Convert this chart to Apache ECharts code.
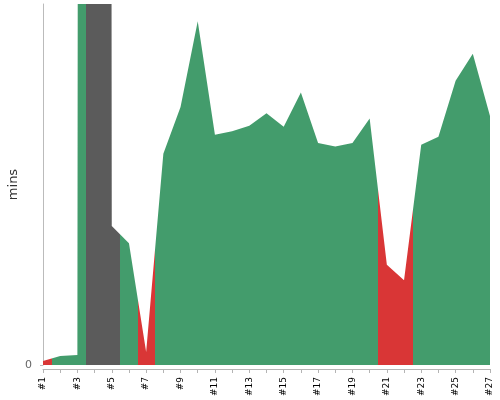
<!DOCTYPE html>
<html>
<head>
<meta charset="utf-8">
<script src="https://cdn.jsdelivr.net/npm/echarts@6/dist/echarts.min.js"></script>
<style>html,body{margin:0;padding:0;background:#fff}#c{width:500px;height:400px}</style>
</head>
<body>
<div id="c"></div>
<script>
// Build labels
var categories = ['#1','#2','#3','#4','#5','#6','#7','#8','#9','#10','#11','#12','#13','#14','#15','#16','#17','#18','#19','#20','#21','#22','#23','#24','#25','#26','#27'];
// Build durations (mins)
var durations = [0.44, 1.0, 1.11, 2000, 15.4, 13.5, 1.44, 23.4, 28.6, 38.1, 25.5, 25.9, 26.5, 27.9, 26.4, 30.2, 24.6, 24.2, 24.6, 27.3, 11.1, 9.4, 24.4, 25.3, 31.5, 34.5, 27.6];
// Build result per build
var statuses = ['fail','ok','ok','aborted','aborted','ok','fail','ok','ok','ok','ok','ok','ok','ok','ok','ok','ok','ok','ok','ok','fail','fail','ok','ok','ok','ok','ok'];
var yTicks = [0];

var statusColor = { ok: '#439c6c', fail: '#d93636', aborted: '#5b5b5b' };

var seriesData = durations.map(function (v, i) { return [i, v]; });
var pieces = statuses.map(function (s, i) {
  return { gt: i - 0.5, lte: i + 0.5, color: statusColor[s] };
});
var labelTicks = [];
for (var k = 0; k < categories.length; k += 2) labelTicks.push(k);

var chart = echarts.init(document.getElementById('c'), null, { renderer: 'canvas' });
chart.setOption({
  animation: false,
  grid: { left: 43, right: 10, top: 4, bottom: 35, containLabel: false, outerBoundsMode: 'none' },
  visualMap: {
    type: 'piecewise', show: false, dimension: 0, seriesIndex: 0,
    pieces: pieces, outOfRange: { color: statusColor.ok }
  },
  xAxis: {
    type: 'value', min: 0, max: categories.length - 1, interval: 1,
    offset: 4,
    splitLine: { show: false },
    axisLine: { show: true, onZero: false, lineStyle: { color: '#b4b4b4' } },
    axisTick: { show: true, length: 4, lineStyle: { color: '#b4b4b4' } },
    axisLabel: {
      customValues: labelTicks,
      formatter: function (v) { return categories[Math.round(v)] || ''; },
      rotate: 90, fontSize: 9, fontFamily: 'DejaVu Sans', color: '#000', margin: 8
    }
  },
  yAxis: {
    type: 'value', min: 0, max: 40, offset: 3,
    name: 'mins', nameLocation: 'middle', nameGap: 20, nameMoveOverlap: false,
    nameTextStyle: { fontSize: 13, fontFamily: 'DejaVu Sans', color: '#333' },
    splitLine: { show: false },
    axisLine: { show: true, lineStyle: { color: '#bbbbbb' } },
    axisTick: { show: true, length: 3, customValues: yTicks, lineStyle: { color: '#bbbbbb' } },
    axisLabel: { customValues: yTicks, fontSize: 11, fontFamily: 'DejaVu Sans', color: '#666', margin: 8 }
  },
  series: [{
    type: 'line',
    data: seriesData,
    showSymbol: false,
    symbol: 'none',
    clip: true,
    lineStyle: { width: 0 },
    areaStyle: { opacity: 1 }
  }]
});
</script>
</body>
</html>
